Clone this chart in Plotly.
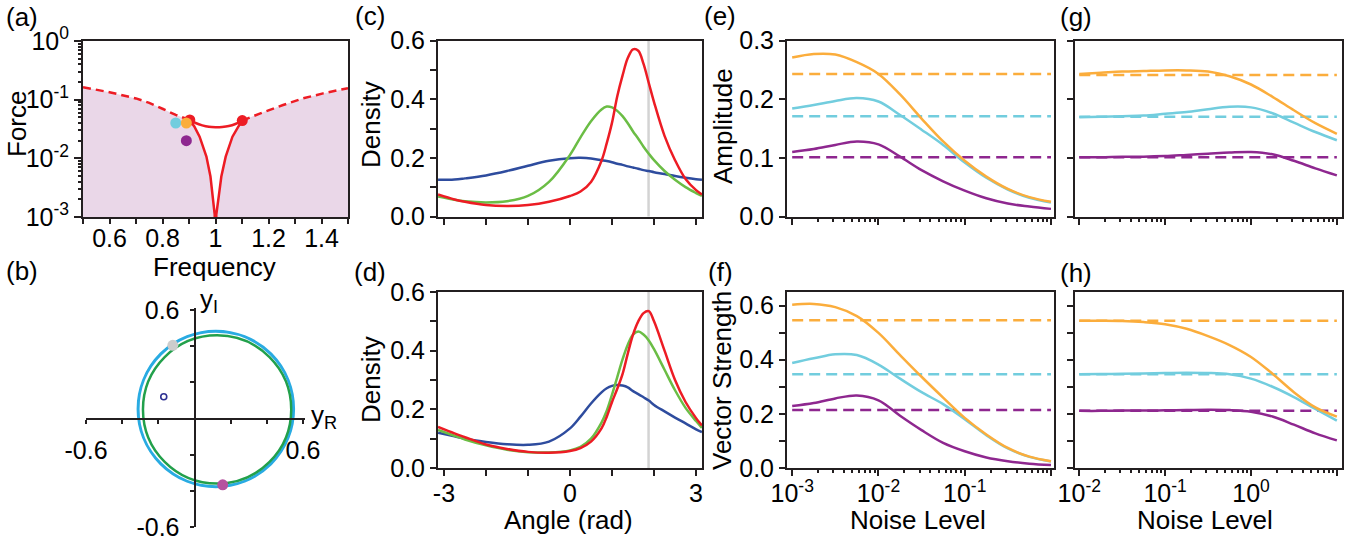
import plotly.graph_objects as go

# ---------------- data ----------------
# (a) Arnold tongue boundary (Force vs Frequency)
dash_left_freq = [0.50, 0.60, 0.70, 0.75, 0.80, 0.85, 0.903]
dash_left_force = [0.163, 0.134, 0.105, 0.088, 0.070, 0.055, 0.045]
tongue_left_freq = [0.903, 0.92, 0.94, 0.9657, 0.981, 0.991, 0.997, 1.0]
tongue_left_force = [0.045, 0.035, 0.0234, 0.0107, 0.0049, 0.0022, 0.0011, 0.0001]
tongue_right_freq = [1.0, 1.003, 1.012, 1.022, 1.0385, 1.064, 1.085, 1.101]
tongue_right_force = [0.0001, 0.0011, 0.0022, 0.0049, 0.0107, 0.0234, 0.034, 0.044]
arc_freq = [0.903, 0.925, 0.95, 0.975, 1.0, 1.025, 1.05, 1.075, 1.101]
arc_force = [0.045, 0.040, 0.0365, 0.0345, 0.034, 0.0343, 0.0355, 0.0385, 0.044]
dash_right_freq = [1.101, 1.167, 1.255, 1.33, 1.406, 1.5]
dash_right_force = [0.044, 0.058, 0.081, 0.105, 0.128, 0.157]
bif_freq = [0.903, 1.101]
bif_force = [0.045, 0.044]
state_freq = [0.85, 0.89, 0.89]
state_force = [0.040, 0.040, 0.020]
force_floor = 0.0001

# (b) limit cycles in the complex plane
cycle_cx = [0.118, 0.125]
cycle_cy = [0.053, 0.050]
cycle_r = [0.430, 0.410]
gray_pt = (-0.12, 0.405)
magenta_pt = (0.156, -0.367)
fixed_pt = (-0.17, 0.12)

# (c), (d) phase densities
angle = [-3.14, -2.75, -2.5, -2.0, -1.5, -1.0, -0.5, 0.0, 0.25, 0.5, 0.75, 0.875, 1.0,
         1.125, 1.25, 1.375, 1.5, 1.625, 1.75, 1.875, 2.0, 2.25, 2.5, 2.75, 3.0, 3.14]
c_red = [0.075, 0.058, 0.050, 0.039, 0.036, 0.039, 0.050, 0.070, 0.085, 0.118, 0.19, 0.25, 0.32,
         0.41, 0.48, 0.54, 0.57, 0.565, 0.52, 0.455, 0.39, 0.275, 0.192, 0.128, 0.09, 0.075]
c_green = [0.068, 0.057, 0.052, 0.048, 0.052, 0.070, 0.118, 0.21, 0.27, 0.325, 0.365, 0.375, 0.372,
           0.36, 0.342, 0.318, 0.29, 0.265, 0.238, 0.214, 0.192, 0.155, 0.125, 0.10, 0.08, 0.07]
c_blue = [0.125, 0.126, 0.130, 0.140, 0.155, 0.173, 0.190, 0.199, 0.200, 0.198, 0.192, 0.189, 0.185,
          0.180, 0.176, 0.171, 0.167, 0.163, 0.158, 0.155, 0.151, 0.145, 0.138, 0.132, 0.127, 0.125]
d_red = [0.14, 0.118, 0.105, 0.080, 0.065, 0.055, 0.052, 0.058, 0.068, 0.09, 0.135, 0.175, 0.225,
         0.27, 0.32, 0.39, 0.455, 0.50, 0.528, 0.535, 0.50, 0.40, 0.30, 0.225, 0.17, 0.145]
d_green = [0.13, 0.11, 0.097, 0.077, 0.062, 0.054, 0.053, 0.060, 0.072, 0.10, 0.155, 0.195, 0.25,
           0.31, 0.37, 0.42, 0.455, 0.465, 0.455, 0.435, 0.405, 0.335, 0.265, 0.205, 0.16, 0.137]
d_blue = [0.12, 0.108, 0.10, 0.089, 0.081, 0.079, 0.09, 0.135, 0.175, 0.22, 0.258, 0.272, 0.28,
          0.283, 0.281, 0.275, 0.262, 0.252, 0.241, 0.23, 0.215, 0.193, 0.172, 0.152, 0.132, 0.122]
forcing_angle = 1.87

# (e)-(h) amplitude / vector strength vs noise
noise_ef = [0.001, 0.00178, 0.00316, 0.00562, 0.01, 0.0178, 0.0316, 0.0562, 0.1, 0.178, 0.316, 0.562, 1.0]
noise_gh = [0.01, 0.0178, 0.0316, 0.0562, 0.1, 0.178, 0.316, 0.562, 1.0, 1.78, 3.16, 5.62, 10.0]
e_orange = [0.271, 0.277, 0.276, 0.263, 0.243, 0.208, 0.167, 0.128, 0.095, 0.068, 0.047, 0.033, 0.025]
e_cyan = [0.184, 0.190, 0.197, 0.202, 0.196, 0.173, 0.148, 0.122, 0.092, 0.066, 0.046, 0.032, 0.024]
e_purple = [0.110, 0.115, 0.122, 0.128, 0.123, 0.102, 0.079, 0.060, 0.044, 0.031, 0.022, 0.017, 0.013]
f_orange = [0.603, 0.606, 0.594, 0.561, 0.499, 0.417, 0.337, 0.260, 0.185, 0.124, 0.074, 0.042, 0.025]
f_cyan = [0.388, 0.405, 0.420, 0.417, 0.382, 0.330, 0.280, 0.236, 0.180, 0.121, 0.072, 0.041, 0.024]
f_purple = [0.229, 0.240, 0.257, 0.268, 0.250, 0.193, 0.140, 0.093, 0.062, 0.039, 0.025, 0.016, 0.011]
g_orange = [0.243, 0.245, 0.247, 0.248, 0.249, 0.249, 0.247, 0.239, 0.225, 0.204, 0.181, 0.159, 0.141]
g_cyan = [0.169, 0.170, 0.171, 0.172, 0.175, 0.178, 0.183, 0.187, 0.186, 0.176, 0.160, 0.144, 0.130]
g_purple = [0.101, 0.101, 0.102, 0.102, 0.103, 0.105, 0.107, 0.109, 0.110, 0.106, 0.095, 0.082, 0.070]
h_orange = [0.544, 0.544, 0.543, 0.539, 0.531, 0.514, 0.487, 0.454, 0.410, 0.348, 0.280, 0.224, 0.190]
h_cyan = [0.346, 0.347, 0.348, 0.349, 0.351, 0.352, 0.351, 0.346, 0.330, 0.300, 0.262, 0.218, 0.175]
h_purple = [0.211, 0.211, 0.212, 0.212, 0.213, 0.214, 0.215, 0.214, 0.208, 0.190, 0.160, 0.128, 0.102]
e_ref = [0.243, 0.171, 0.101]
g_ref = [0.241, 0.170, 0.101]
f_ref = [0.546, 0.346, 0.214]
h_ref = [0.544, 0.346, 0.211]

# ---------------- style ----------------
W, H = 1362, 541
FONT = "Liberation Sans, Arial, Helvetica, sans-serif"
INK = "#231F20"
RED = "#ED1C24"
ORANGE = "#FBAD3C"
CYAN = "#72CDDE"
PURPLE = "#8E278F"
BLUE_D = "#2E4C9E"
GREEN_D = "#6BBD45"
PINK = "#EAD7E8"
TICK = 25
TITLE = 26


def dx(p):
    return p / W


def dy(p):
    return 1 - p / H


def ax(**kw):
    base = dict(showline=True, linecolor=INK, linewidth=2, mirror=True, ticks="outside",
                tickcolor=INK, tickwidth=2, ticklen=6, showgrid=False, zeroline=False,
                automargin=False, layer="above traces",
                tickfont=dict(family=FONT, size=TICK, color="black"), fixedrange=True)
    base.update(kw)
    return base


def plain_minor(vals, length=6):
    return dict(ticks="outside", ticklen=length, tickwidth=2, tickcolor=INK,
                tickmode="array", tickvals=vals, showgrid=False)


def log_minor(lo, hi):
    vals = []
    for d in range(lo, hi):
        for k in range(2, 10):
            vals.append(k * 10.0 ** d)
    return dict(ticks="outside", ticklen=3, tickwidth=1.5, tickcolor=INK,
                tickmode="array", tickvals=vals, showgrid=False)


fig = go.Figure()

# ---- (a)
fill_x = dash_left_freq + tongue_left_freq[1:] + tongue_right_freq[1:] + dash_right_freq[1:] \
    + [dash_right_freq[-1], dash_left_freq[0]]
fill_y = dash_left_force + tongue_left_force[1:] + tongue_right_force[1:] + dash_right_force[1:] \
    + [force_floor, force_floor]
fig.add_trace(go.Scatter(x=fill_x, y=fill_y, fill="toself", fillcolor=PINK, mode="none",
                         xaxis="x", yaxis="y"))
for fx, fy in [(dash_left_freq, dash_left_force), (dash_right_freq, dash_right_force)]:
    fig.add_trace(go.Scatter(x=fx, y=fy, mode="lines", line=dict(color=RED, width=2.5, dash="8px,5px"),
                             xaxis="x", yaxis="y"))
fig.add_trace(go.Scatter(x=tongue_left_freq + tongue_right_freq[1:],
                         y=tongue_left_force + tongue_right_force[1:], mode="lines",
                         line=dict(color=RED, width=2.5), xaxis="x", yaxis="y"))
fig.add_trace(go.Scatter(x=arc_freq, y=arc_force, mode="lines", line=dict(color=RED, width=2.5, shape="spline"),
                         xaxis="x", yaxis="y"))
fig.add_trace(go.Scatter(x=bif_freq, y=bif_force, mode="markers", marker=dict(color=RED, size=11),
                         xaxis="x", yaxis="y"))
fig.add_trace(go.Scatter(x=state_freq, y=state_force, mode="markers",
                         marker=dict(color=[CYAN, ORANGE, PURPLE], size=11), xaxis="x", yaxis="y"))

# ---- (b)
shapes = []
for cx, cy, r, col, wd in zip(cycle_cx, cycle_cy, cycle_r, ["#29ABE2", "#22A04B"], [3, 2.5]):
    shapes.append(dict(type="circle", xref="x2", yref="y2", x0=cx - r, x1=cx + r, y0=cy - r, y1=cy + r,
                       line=dict(color=col, width=wd), layer="below"))
fig.add_trace(go.Scatter(x=[gray_pt[0], magenta_pt[0]], y=[gray_pt[1], magenta_pt[1]], mode="markers",
                         marker=dict(color=["#CCCCCC", "#B5519F"], size=11), xaxis="x2", yaxis="y2"))
fig.add_trace(go.Scatter(x=[fixed_pt[0]], y=[fixed_pt[1]], mode="markers",
                         marker=dict(color="white", size=6, line=dict(color="#2E3192", width=1.6)),
                         xaxis="x2", yaxis="y2"))

# ---- (c), (d)
for xa, ya, curves in [("x3", "y3", [c_blue, c_green, c_red]), ("x4", "y4", [d_blue, d_green, d_red])]:
    shapes.append(dict(type="line", xref=xa, yref=ya + " domain", x0=forcing_angle, x1=forcing_angle,
                       y0=0, y1=1, line=dict(color="#D3D3D3", width=2.5), layer="below"))
    for vals, col in zip(curves, [BLUE_D, GREEN_D, RED]):
        fig.add_trace(go.Scatter(x=angle, y=vals, mode="lines", line=dict(color=col, width=2.5, shape="spline"),
                                 xaxis=xa, yaxis=ya))

# ---- (e)-(h)
panels = [("x5", "y5", noise_ef, [e_purple, e_cyan, e_orange], e_ref),
          ("x6", "y6", noise_ef, [f_purple, f_cyan, f_orange], f_ref),
          ("x7", "y7", noise_gh, [g_purple, g_cyan, g_orange], g_ref),
          ("x8", "y8", noise_gh, [h_purple, h_cyan, h_orange], h_ref)]
for xa, ya, nx, curves, refs in panels:
    for ref, col in zip(refs[::-1], [PURPLE, CYAN, ORANGE]):
        fig.add_trace(go.Scatter(x=[nx[0], nx[-1]], y=[ref, ref], mode="lines",
                                 line=dict(color=col, width=2.5, dash="11px,6px"), xaxis=xa, yaxis=ya))
    for vals, col in zip(curves, [PURPLE, CYAN, ORANGE]):
        fig.add_trace(go.Scatter(x=nx, y=vals, mode="lines", line=dict(color=col, width=2.5, shape="spline"),
                                 xaxis=xa, yaxis=ya))

# ---------------- axes ----------------
sup = lambda e: "10<sup>%d</sup>" % e
top_row = [dy(216.5), dy(40.5)]
bot_row = [dy(468), dy(292)]
col_c = [dx(438), dx(702)]
col_e = [dx(787), dx(1054)]
col_g = [dx(1075), dx(1342)]

dens_major = dict(tickmode="array", tickvals=[0, 0.2, 0.4, 0.6], ticktext=["0.0", "0.2", "0.4", "0.6"],
                  minor=plain_minor([0.1, 0.3, 0.5]))

lay = dict(
    xaxis=ax(domain=[dx(83), dx(348)], anchor="y", range=[0.5, 1.5], tickmode="array",
             tickvals=[0.6, 0.8, 1.0, 1.2, 1.4], ticktext=["0.6", "0.8", "1", "1.2", "1.4"],
             ticklen=5, ticklabelstandoff=-7, minor=plain_minor([0.5, 0.7, 0.9, 1.1, 1.3, 1.5], 5)),
    yaxis=ax(domain=[dy(217), dy(41)], anchor="x", type="log", range=[-3, 0], tickmode="array",
             tickvals=[1e-3, 1e-2, 1e-1, 1], ticktext=[sup(-3), sup(-2), sup(-1), sup(0)],
             ticklen=7, minor=log_minor(-3, 0)),
    xaxis2=ax(domain=[dx(86), dx(304.8)], anchor="free", position=dy(418.5), range=[-0.6, 0.61],
              mirror=False, tickmode="array", tickvals=[-0.6, 0.6], ticktext=["-0.6", "0.6"],
              ticklen=4, ticklabelstandoff=5, minor=plain_minor([-0.4, -0.2, 0.2, 0.4], 4)),
    yaxis2=ax(domain=[dy(527), dy(308.2)], anchor="free", position=dx(194.5), range=[-0.6, 0.61],
              mirror=False, tickmode="array", tickvals=[-0.6, 0.6], ticktext=["-0.6", "0.6"],
              ticklen=4, ticklabelstandoff=5, minor=plain_minor([-0.4, -0.2, 0.2, 0.4], 4)),
    xaxis3=ax(domain=col_c, anchor="y3", range=[-3.1416, 3.1416], tickmode="array",
              tickvals=[-3, -2, -1, 0, 1, 2, 3], showticklabels=False),
    yaxis3=ax(domain=top_row, anchor="x3", range=[0, 0.6], **dens_major),
    xaxis4=ax(domain=col_c, anchor="y4", range=[-3.1416, 3.1416], tickmode="array",
              tickvals=[-3, 0, 3], ticktext=["-3", "0", "3"], ticklabelstandoff=-4,
              minor=plain_minor([-2, -1, 1, 2])),
    yaxis4=ax(domain=bot_row, anchor="x4", range=[0, 0.6], **dens_major),
    xaxis5=ax(domain=col_e, anchor="y5", type="log", range=[-3.06, 0.035], tickmode="array",
              tickvals=[1e-3, 1e-2, 1e-1, 1], showticklabels=False, minor=log_minor(-3, 0)),
    yaxis5=ax(domain=top_row, anchor="x5", range=[0, 0.3], tickmode="array",
              tickvals=[0, 0.1, 0.2, 0.3], ticktext=["0.0", "0.1", "0.2", "0.3"]),
    xaxis6=ax(domain=col_e, anchor="y6", type="log", range=[-3.06, 0.035], tickmode="array",
              tickvals=[1e-3, 1e-2, 1e-1, 1], ticktext=[sup(-3), sup(-2), sup(-1), ""],
              minor=log_minor(-3, 0), ticklabelstandoff=-4),
    yaxis6=ax(domain=bot_row, anchor="x6", range=[0, 0.65], tickmode="array",
              tickvals=[0, 0.2, 0.4, 0.6], ticktext=["0.0", "0.2", "0.4", "0.6"],
              minor=plain_minor([0.1, 0.3, 0.5])),
    xaxis7=ax(domain=col_g, anchor="y7", type="log", range=[-2.05, 1.06], tickmode="array",
              tickvals=[1e-2, 1e-1, 1, 10], showticklabels=False, minor=log_minor(-2, 1)),
    yaxis7=ax(domain=top_row, anchor="x7", range=[0, 0.3], tickmode="array",
              tickvals=[0, 0.1, 0.2, 0.3], showticklabels=False),
    xaxis8=ax(domain=col_g, anchor="y8", type="log", range=[-2.05, 1.06], tickmode="array",
              tickvals=[1e-2, 1e-1, 1, 10], ticktext=[sup(-2), sup(-1), sup(0), ""],
              minor=log_minor(-2, 1), ticklabelstandoff=-4),
    yaxis8=ax(domain=bot_row, anchor="x8", range=[0, 0.65], tickmode="array",
              tickvals=[0, 0.1, 0.2, 0.3, 0.4, 0.5, 0.6], showticklabels=False),
)


def note(text, x, y, size=TITLE, angle=0):
    return dict(text=text, x=dx(x), y=dy(y), xref="paper", yref="paper", showarrow=False,
                xanchor="center", yanchor="middle", textangle=angle,
                font=dict(family=FONT, size=size, color="black"))


annotations = [
    note("(a)", 22, 17), note("(b)", 22, 271), note("(c)", 370, 16), note("(d)", 370, 272),
    note("(e)", 720, 16), note("(f)", 720, 272), note("(g)", 1076, 17), note("(h)", 1076, 273),
    note("Force", 17, 124, angle=-90), note("Frequency", 214, 267),
    note("y<sub>I</sub>", 209, 300), note("y<sub>R</sub>", 324, 416),
    note("Density", 371, 125, angle=-90), note("Density", 371, 380, angle=-90),
    note("Angle (rad)", 568, 520),
    note("Amplitude", 723, 126, angle=-90), note("Vector Strength", 722, 381, angle=-90),
    note("Noise Level", 918, 520), note("Noise Level", 1205, 520),
]

fig.update_layout(template="none", width=W, height=H, margin=dict(l=0, r=0, t=0, b=0, pad=0),
                  showlegend=False, paper_bgcolor="white", plot_bgcolor="white", shapes=shapes,
                  annotations=annotations, **lay)

fig.write_html("out.html")
